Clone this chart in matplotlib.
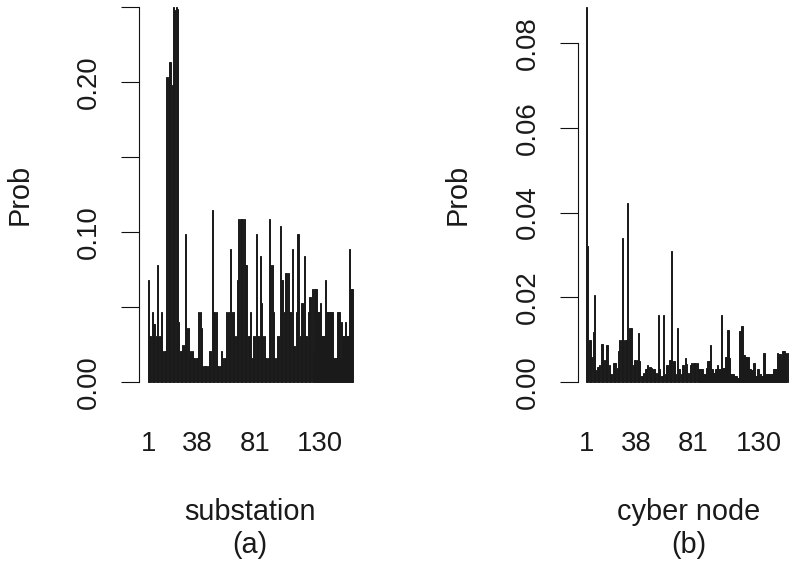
import matplotlib
matplotlib.use("Agg")
import matplotlib.pyplot as plt
import numpy as np

plt.rcParams['font.family'] = ['Liberation Sans', 'DejaVu Sans']

# ---------------- data ----------------
sub_prob = [
    0.068, 0.031, 0.031, 0.047, 0.039, 0.039, 0.031, 0.078, 0.031, 0.031,
    0.047, 0.021, 0.021, 0.021, 0.2035, 0.2035, 0.2135, 0.2135, 0.198, 0.250,
    0.248, 0.250, 0.249, 0.040, 0.021, 0.021, 0.025, 0.025, 0.099, 0.036,
    0.036, 0.016, 0.021, 0.021, 0.016, 0.016, 0.016, 0.016, 0.047, 0.047,
    0.036, 0.011, 0.011, 0.011, 0.011, 0.011, 0.021, 0.021, 0.115, 0.047,
    0.047, 0.047, 0.011, 0.011, 0.011, 0.021, 0.016, 0.016, 0.016, 0.047,
    0.047, 0.031, 0.089, 0.047, 0.047, 0.031, 0.031, 0.068, 0.109, 0.109,
    0.109, 0.109, 0.109, 0.078, 0.078, 0.031, 0.031, 0.047, 0.016, 0.031,
    0.031, 0.099, 0.031, 0.031, 0.084, 0.053, 0.031, 0.031, 0.016, 0.016,
    0.016, 0.109, 0.078, 0.078, 0.047, 0.016, 0.016, 0.031, 0.031, 0.104,
    0.068, 0.068, 0.047, 0.073, 0.073, 0.073, 0.047, 0.047, 0.089, 0.024,
    0.024, 0.047, 0.099, 0.099, 0.031, 0.053, 0.053, 0.084, 0.031, 0.031,
    0.047, 0.057, 0.057, 0.062, 0.021, 0.062, 0.062, 0.047, 0.047, 0.053,
    0.031, 0.031, 0.031, 0.068, 0.047, 0.047, 0.047, 0.047, 0.047, 0.016,
    0.016, 0.016, 0.047, 0.047, 0.016, 0.040, 0.031, 0.031, 0.040, 0.031,
    0.031, 0.089, 0.062, 0.062,
]

cyber_prob = [
    0.0885, 0.0320, 0.0099, 0.0099, 0.0060, 0.0118, 0.0205, 0.0028, 0.0036, 0.0036,
    0.0040, 0.0090, 0.0090, 0.0053, 0.0052, 0.0087, 0.0087, 0.0040, 0.0020, 0.0020,
    0.0046, 0.0046, 0.0046, 0.0034, 0.0072, 0.0100, 0.0100, 0.0341, 0.0099, 0.0099,
    0.0099, 0.0423, 0.0127, 0.0127, 0.0127, 0.0040, 0.0052, 0.0052, 0.0052, 0.0115,
    0.0050, 0.0013, 0.0013, 0.0022, 0.0030, 0.0030, 0.0040, 0.0035, 0.0035, 0.0033,
    0.0030, 0.0030, 0.0022, 0.0022, 0.0157, 0.0030, 0.0013, 0.0013, 0.0157, 0.0020,
    0.0040, 0.0040, 0.0052, 0.0052, 0.0310, 0.0050, 0.0050, 0.0020, 0.0128, 0.0030,
    0.0030, 0.0020, 0.0040, 0.0040, 0.0056, 0.0042, 0.0022, 0.0022, 0.0040, 0.0046,
    0.0046, 0.0046, 0.0046, 0.0046, 0.0030, 0.0030, 0.0030, 0.0030, 0.0020, 0.0020,
    0.0033, 0.0050, 0.0050, 0.0087, 0.0030, 0.0022, 0.0022, 0.0030, 0.0040, 0.0030,
    0.0030, 0.0157, 0.0033, 0.0033, 0.0059, 0.0059, 0.0122, 0.0056, 0.0020, 0.0020,
    0.0020, 0.0013, 0.0013, 0.0009, 0.0009, 0.0120, 0.0133, 0.0133, 0.0064, 0.0060,
    0.0060, 0.0060, 0.0030, 0.0030, 0.0028, 0.0046, 0.0046, 0.0013, 0.0030, 0.0030,
    0.0020, 0.0013, 0.0013, 0.0069, 0.0020, 0.0020, 0.0020, 0.0020, 0.0018, 0.0018,
    0.0030, 0.0030, 0.0030, 0.0069, 0.0067, 0.0067, 0.0052, 0.0072, 0.0072, 0.0067,
    0.0069, 0.0069, 0.0065, 0.0060,
]

tick_idx = [1, 38, 81, 130]
tick_names = ["1", "38", "81", "130"]

sub_yticks = [0.00, 0.05, 0.10, 0.15, 0.20, 0.25]
sub_ylabels = ["0.00", "", "0.10", "", "0.20", ""]
cyber_yticks = [0.00, 0.02, 0.04, 0.06, 0.08]
cyber_ylabels = ["0.00", "0.02", "0.04", "0.06", "0.08"]

# ---------------- layout ----------------
W, H, DPI = 789, 566, 100
fig = plt.figure(figsize=(W / DPI, H / DPI), dpi=DPI)
FS_TICK = 19.8
FS_LAB = 20.8
PT = 72.0 / DPI  # points per pixel

plot_bottom_px, plot_top_px = 397, -8
plot_w_px = 221.8


def make_axes(left_px):
    return fig.add_axes([left_px / W, (H - plot_bottom_px) / H,
                         plot_w_px / W, (plot_bottom_px - plot_top_px) / H])


def panel(ax, vals, yticks, ylabels, xlabel, tag):
    n = len(vals)
    x = 0.7 + 1.2 * np.arange(n)
    ax.bar(x, vals, width=1.0, color='#1a1a1a', edgecolor='#1a1a1a', linewidth=0.7)
    lo, hi = 0.2, 1.2 * n
    ext = 0.04 * (hi - lo)
    ax.set_xlim(lo - ext, hi + ext)
    m = max(vals)
    ax.set_ylim(-0.04 * m, 1.04 * m)
    ax.patch.set_alpha(0)
    for s in ['top', 'right', 'bottom']:
        ax.spines[s].set_visible(False)
    ax.spines['left'].set_bounds(yticks[0], yticks[-1])
    ax.spines['left'].set_linewidth(0.8)
    ax.spines['left'].set_color('#111111')

    ax.set_yticks(yticks)
    ax.set_yticklabels(ylabels)
    ax.tick_params(axis='y', length=17.6 * PT, width=0.8, color='#111111',
                   pad=25.5 * PT, labelsize=FS_TICK, labelrotation=90, labelcolor='#1a1a1a')
    for lab in ax.get_yticklabels():
        lab.set_rotation_mode('anchor')
        lab.set_ha('center')
        lab.set_va('baseline')

    ax.set_xticks([0.7 + 1.2 * (i - 1) for i in tick_idx])
    ax.set_xticklabels(tick_names)
    ax.tick_params(axis='x', length=0, pad=34.3 * PT, labelsize=FS_TICK, labelcolor='#1a1a1a')

    ax.annotate("Prob", xy=(0, 0.5), xycoords='axes fraction',
                xytext=(-112 * PT, 0), textcoords='offset points',
                rotation=90, rotation_mode='anchor', ha='center', va='baseline',
                fontsize=FS_LAB, color='#1a1a1a')
    ax.annotate(xlabel, xy=(0.5, 0), xycoords='axes fraction',
                xytext=(0, -123 * PT), textcoords='offset points',
                ha='center', va='baseline', fontsize=FS_LAB, color='#1a1a1a')
    ax.annotate(tag, xy=(0.5, 0), xycoords='axes fraction',
                xytext=(0, -156 * PT), textcoords='offset points',
                ha='center', va='baseline', fontsize=FS_LAB, color='#1a1a1a')


ax1 = make_axes(139.3)
panel(ax1, sub_prob, sub_yticks, sub_ylabels, "substation", "(a)")
ax2 = make_axes(577.7)
panel(ax2, cyber_prob, cyber_yticks, cyber_ylabels, "cyber node", "(b)")

fig.savefig("out.png", dpi=DPI, facecolor='white')
